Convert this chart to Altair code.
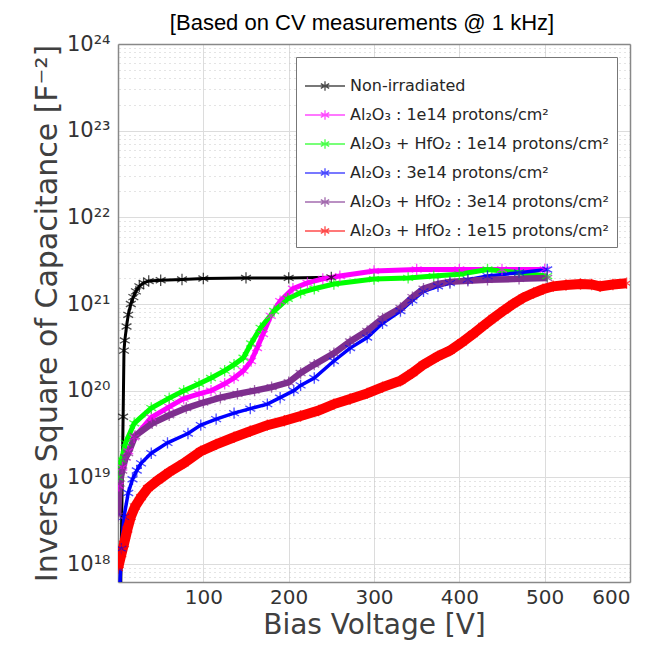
import altair as alt
import pandas as pd

# ---------------- data ----------------
names = [
    "Non-irradiated",
    "Al₂O₃ : 1e14 protons/cm²",
    "Al₂O₃ + HfO₂ : 1e14 protons/cm²",
    "Al₂O₃ : 3e14 protons/cm²",
    "Al₂O₃ + HfO₂ : 3e14 protons/cm²",
    "Al₂O₃ + HfO₂ : 1e15 protons/cm²",
]
colors = ["#000000", "#ff00ff", "#00ff00", "#0000ff", "#7e2f8e", "#ff0000"]
line_widths = [3, 5, 5, 3.5, 6.5, 10]

black_v = [3, 6, 7, 8, 10, 12, 15, 18, 21, 25, 30, 36, 50, 75, 100, 150, 200, 250]
black_c = [4e17, 5e19, 2.9e20, 3.8e20, 5.5e20, 7.5e20, 1.0e21, 1.2e21, 1.4e21, 1.6e21,
           1.75e21, 1.84e21, 1.88e21, 1.92e21, 1.97e21, 2.0e21, 2.0e21, 2.03e21]

mag_v = [1, 5, 9, 12, 19, 39, 60, 77, 95, 109, 125, 136, 147, 156, 163, 170, 179, 190,
         205, 222, 240, 260, 300, 350, 400, 450, 500]
mag_c = [8e18, 1.3e19, 1.7e19, 2.0e19, 2.9e19, 4.9e19, 6.5e19, 8.1e19, 9.2e19, 1.0e20,
         1.2e20, 1.4e20, 1.7e20, 2.2e20, 3.1e20, 4.5e20, 7.3e20, 1.08e21, 1.5e21, 1.75e21,
         1.95e21, 2.1e21, 2.4e21, 2.5e21, 2.5e21, 2.5e21, 2.5e21]

grn_v = [0, 4, 9, 19, 39, 60, 77, 95, 109, 125, 136, 147, 156, 167, 183, 199, 214, 230,
         253, 300, 340, 370, 400, 433, 470, 503]
grn_c = [1.0e19, 1.6e19, 2.5e19, 4.2e19, 6.3e19, 8.2e19, 1.0e20, 1.2e20, 1.4e20, 1.7e20,
         2.0e20, 2.4e20, 3.5e20, 5.3e20, 8.3e20, 1.15e21, 1.35e21, 1.5e21, 1.7e21, 1.94e21,
         2.0e21, 2.1e21, 2.2e21, 2.5e21, 2.3e21, 2.1e21]

blu_v = [1, 4, 7, 12, 17, 22, 27, 39, 58, 82, 97, 115, 136, 155, 175, 190, 206, 214, 230,
         253, 272, 292, 310, 331, 345, 358, 375, 389, 410, 433, 470, 503]
blu_c = [3e17, 1.5e18, 3.5e18, 6.6e18, 9.5e18, 1.2e19, 1.45e19, 1.9e19, 2.5e19, 3.2e19,
         4.0e19, 4.7e19, 5.5e19, 6.2e19, 7.0e19, 8.3e19, 1.0e20, 1.15e20, 1.4e20, 2.2e20,
         3.1e20, 4.1e20, 6.0e20, 8.3e20, 1.1e21, 1.4e21, 1.6e21, 1.74e21, 1.9e21, 2.1e21,
         2.3e21, 2.5e21]

pur_v = [0, 2, 5, 9, 12, 20, 40, 60, 80, 100, 120, 140, 160, 180, 200, 214, 230, 253,
         272, 292, 310, 331, 345, 358, 375, 389, 410, 433, 470, 503]
pur_c = [3.6e18, 8.5e18, 1.2e19, 1.7e19, 1.9e19, 3.0e19, 4.2e19, 5.2e19, 6.3e19, 7.3e19,
         8.3e19, 9.2e19, 1.0e20, 1.1e20, 1.25e20, 1.6e20, 2.0e20, 2.7e20, 3.7e20, 4.9e20,
         6.8e20, 9.0e20, 1.2e21, 1.5e21, 1.7e21, 1.8e21, 1.85e21, 1.9e21, 1.95e21, 2.0e21]

red_v = [0, 1, 4, 7, 11, 15, 20, 27, 35, 47, 60, 77, 97, 115, 136, 155, 175, 195, 214,
         235, 253, 272, 292, 310, 331, 345, 358, 375, 389, 403, 416, 428, 440, 452, 463,
         475, 487, 498, 510, 525, 542, 555, 565, 580, 596]
red_c = [9e17, 9.8e17, 1.3e18, 1.7e18, 2.5e18, 3.5e18, 4.6e18, 5.9e18, 7.5e18, 9.3e18,
         1.15e19, 1.45e19, 2.0e19, 2.4e19, 2.9e19, 3.4e19, 4.0e19, 4.5e19, 5.1e19, 5.9e19,
         7.0e19, 8.0e19, 9.3e19, 1.1e20, 1.3e20, 1.6e20, 2.0e20, 2.5e20, 2.9e20, 3.6e20,
         4.5e20, 5.6e20, 6.9e20, 8.4e20, 1.0e21, 1.18e21, 1.34e21, 1.48e21, 1.6e21,
         1.66e21, 1.7e21, 1.68e21, 1.6e21, 1.68e21, 1.74e21]

x_ticks = [100, 200, 300, 400, 500, 600]
y_ticks = [1e18, 1e19, 1e20, 1e21, 1e22, 1e23, 1e24]
y_minor = [k * 10.0 ** n for n in range(17, 24) for k in range(2, 10)
           if 6.2e17 <= k * 10.0 ** n <= 1e24]

series = [black_v, mag_v, grn_v, blu_v, pur_v, red_v]
values = [black_c, mag_c, grn_c, blu_c, pur_c, red_c]

rows = []
for i, (name, vs, cs) in enumerate(zip(names, series, values)):
    for v, c in zip(vs, cs):
        rows.append({"series": name, "order": i, "v": v, "c": c})
df = pd.DataFrame(rows)

FONT = "DejaVu Sans"
ASTER = "M0,-1L0,1M-0.866,-0.5L0.866,0.5M-0.866,0.5L0.866,-0.5"
LEG_SYM = "M-1,0L1,0M0,-0.24L0,0.24M-0.21,-0.12L0.21,0.12M-0.21,0.12L0.21,-0.12"

legend = alt.Legend(
    title=None, orient="top-right", offset=13,
    symbolType=LEG_SYM, symbolSize=1600, symbolStrokeWidth=1.3,
    symbolFillColor="transparent",
    labelFont=FONT, labelFontSize=16, labelColor="#262626", labelLimit=400,
    rowPadding=-11, padding=8, labelOffset=4,
    strokeColor="#777777", fillColor="white",
)
cscale = alt.Scale(domain=names, range=colors)
color = alt.Color("series:N", scale=cscale, sort=names, legend=legend)

ylabel = ("round(log(datum.value)/LN10) == 18 ? '10¹⁸' : "
          "round(log(datum.value)/LN10) == 19 ? '10¹⁹' : "
          "round(log(datum.value)/LN10) == 20 ? '10²⁰' : "
          "round(log(datum.value)/LN10) == 21 ? '10²¹' : "
          "round(log(datum.value)/LN10) == 22 ? '10²²' : "
          "round(log(datum.value)/LN10) == 23 ? '10²³' : '10²⁴'")

xscale = alt.Scale(domain=[0, 600], nice=False, zero=False)
yscale = alt.Scale(type="log", domain=[6.2e17, 1e24], nice=False)

x_main = alt.X("v:Q", scale=xscale, axis=alt.Axis(
    values=x_ticks, title="Bias Voltage [V]", grid=True, gridColor="#dcdcdc",
    labelFont=FONT, labelFontSize=20, labelColor="#333333", labelPadding=5,
    titleFont=FONT, titleFontSize=28, titleFontWeight="normal", titleColor="#404040",
    titlePadding=4, ticks=False, domainColor="#888888", domainWidth=1.5))
y_main = alt.Y("c:Q", scale=yscale, axis=alt.Axis(
    values=y_ticks, labelExpr=ylabel, title="Inverse Square of Capacitance [F⁻²]",
    grid=True, gridColor="#dcdcdc",
    labelFont=FONT, labelFontSize=21, labelColor="#333333", labelPadding=8,
    titleFont=FONT, titleFontSize=30, titleFontWeight="normal", titleColor="#404040",
    titlePadding=4, ticks=False, domainColor="#888888", domainWidth=1.5))

line_layers = []
for name, w in zip(names, line_widths):
    line_layers.append(
        alt.Chart(df).transform_filter(alt.datum.series == name)
        .mark_line(clip=True, strokeWidth=w)
        .encode(x=x_main, y=y_main, color=color, order="v:Q")
    )
lines = alt.layer(*line_layers)

points = alt.Chart(df).mark_point(shape=ASTER, filled=False, size=130, strokeWidth=1.3,
                                  clip=True).encode(
    x=alt.X("v:Q", scale=xscale, axis=alt.Axis(
        orient="top", values=x_ticks, labels=False, ticks=False, grid=False, title=None,
        domainColor="#888888", domainWidth=1.5)),
    y=alt.Y("c:Q", scale=yscale, axis=alt.Axis(
        orient="right", values=y_minor, labels=False, ticks=False, title=None,
        grid=True, gridColor="#c8c8c8", gridDash=[1, 4], domainColor="#888888",
        domainWidth=1.5)),
    color=color,
)

chart = alt.layer(lines, points).resolve_axis(x="independent", y="independent").properties(
    width=512, height=538,
    title=alt.TitleParams("[Based on CV measurements @ 1 kHz]", font="Liberation Sans",
                          fontSize=22, fontWeight="normal", color="#000000", offset=-2,
                          dx=-12, anchor="middle"),
    autosize=alt.AutoSizeParams(type="none"),
    padding={"left": 110, "top": 36, "right": 14, "bottom": 61},
).configure_view(stroke="#888888", strokeWidth=1.5).configure(background="white")

chart.save("out.html", embed_options={"renderer": "svg", "actions": False})
